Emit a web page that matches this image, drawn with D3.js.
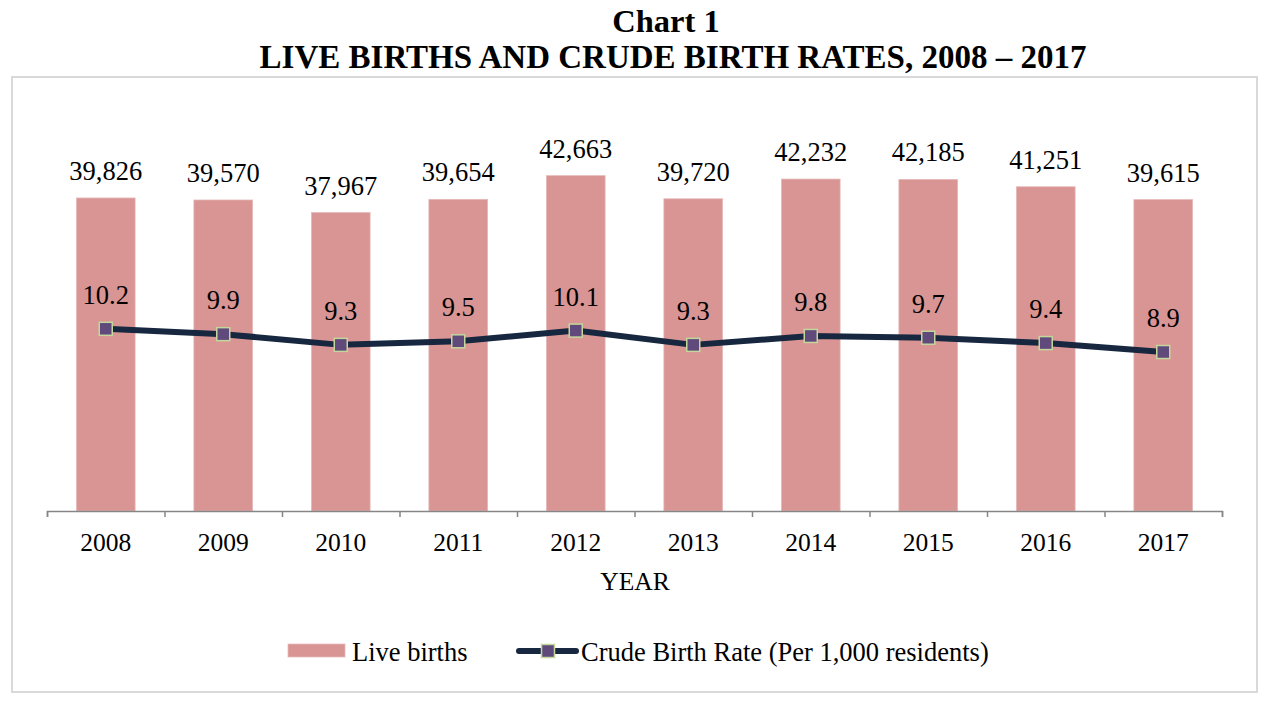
<!DOCTYPE html>
<html>
<head>
<meta charset="utf-8">
<script src="https://cdn.jsdelivr.net/npm/d3@7"></script>
<style>
    body { margin: 0; background: #ffffff; }
    svg { display: block; }
</style>
</head>
<body>
<div id="chart"></div>
<script>
// chart data
var years = ["2008", "2009", "2010", "2011", "2012", "2013", "2014", "2015", "2016", "2017"];
var liveBirths = [39826, 39570, 37967, 39654, 42663, 39720, 42232, 42185, 41251, 39615];
var birthRates = [10.2, 9.9, 9.3, 9.5, 10.1, 9.3, 9.8, 9.7, 9.4, 8.9];
var seriesNames = ["Live births", "Crude Birth Rate (Per 1,000 residents)"];

var width = 1274, height = 711;
var serif = "'Liberation Serif', 'Times New Roman', serif";
var barColor = "#d99594", lineColor = "#17273f";
var markerFill = "#604a7b", markerStroke = "#c3d69b";

var svg = d3.select("#chart").append("svg")
    .attr("width", width)
    .attr("height", height)
    .attr("font-family", serif);

// outer frame
svg.append("rect")
    .attr("x", 12)
    .attr("y", 77)
    .attr("width", 1245)
    .attr("height", 615)
    .attr("fill", "none")
    .attr("stroke", "#d9d9d9")
    .attr("stroke-width", 2);

// titles
svg.append("text")
    .attr("x", 666)
    .attr("y", 32)
    .attr("text-anchor", "middle")
    .attr("font-size", 32.5)
    .attr("font-weight", "bold")
    .text("Chart 1");

svg.append("text")
    .attr("x", 673)
    .attr("y", 68)
    .attr("text-anchor", "middle")
    .attr("font-size", 33)
    .attr("font-weight", "bold")
    .text("LIVE BIRTHS AND CRUDE BIRTH RATES, 2008 \u2013 2017");

// scales
var x = d3.scaleBand()
    .domain(years)
    .range([47, 1222])
    .paddingInner(0.5)
    .paddingOuter(0.25);

var xCenter = function(d) { return x(d) + x.bandwidth() / 2; };

var yBirths = d3.scaleLinear().domain([0, 50000]).range([511, 118]);
var yRate = d3.scaleLinear().domain([0, 22]).range([511, 118]);

// bars
svg.append("g")
    .selectAll("rect")
    .data(years)
    .enter().append("rect")
    .attr("x", function(d) { return x(d); })
    .attr("y", function(d, i) { return yBirths(liveBirths[i]); })
    .attr("width", x.bandwidth())
    .attr("height", function(d, i) { return yBirths(0) - yBirths(liveBirths[i]); })
    .attr("fill", barColor)
    .attr("stroke", "#e6b9b8")
    .attr("stroke-width", 0.75);

// bar labels
svg.append("g")
    .selectAll("text")
    .data(years)
    .enter().append("text")
    .attr("x", xCenter)
    .attr("y", function(d, i) { return yBirths(liveBirths[i]) - 18; })
    .attr("text-anchor", "middle")
    .attr("font-size", 26.5)
    .attr("fill", "#000000")
    .text(function(d, i) { return d3.format(",")(liveBirths[i]); });

// x axis
var xTicks = d3.scaleLinear().domain([0, years.length]).range([47, 1222]);
var axis = svg.append("g")
    .attr("transform", "translate(0,511)")
    .call(d3.axisBottom(xTicks).ticks(years.length).tickFormat("").tickSizeInner(6).tickSizeOuter(6));
axis.selectAll("path, line")
    .attr("stroke", "#868686")
    .attr("stroke-width", 1.5);

svg.append("g")
    .selectAll("text")
    .data(years)
    .enter().append("text")
    .attr("x", xCenter)
    .attr("y", 551)
    .attr("text-anchor", "middle")
    .attr("font-size", 25.5)
    .text(function(d) { return d; });

svg.append("text")
    .attr("x", 635)
    .attr("y", 590)
    .attr("text-anchor", "middle")
    .attr("font-size", 25.5)
    .text("YEAR");

// rate line
var line = d3.line()
    .x(function(d, i) { return xCenter(years[i]); })
    .y(function(d) { return yRate(d); });

svg.append("path")
    .datum(birthRates)
    .attr("d", line)
    .attr("fill", "none")
    .attr("stroke", lineColor)
    .attr("stroke-width", 6)
    .attr("stroke-linejoin", "round");

svg.append("g")
    .selectAll("rect")
    .data(birthRates)
    .enter().append("rect")
    .attr("x", function(d, i) { return xCenter(years[i]) - 6.5; })
    .attr("y", function(d) { return yRate(d) - 6.5; })
    .attr("width", 13)
    .attr("height", 13)
    .attr("fill", markerFill)
    .attr("stroke", markerStroke)
    .attr("stroke-width", 1.5);

svg.append("g")
    .selectAll("text")
    .data(birthRates)
    .enter().append("text")
    .attr("x", function(d, i) { return xCenter(years[i]); })
    .attr("y", function(d) { return yRate(d) - 25; })
    .attr("text-anchor", "middle")
    .attr("font-size", 26.5)
    .text(function(d) { return d3.format(".1f")(d); });

// legend
var legend = svg.append("g");

legend.append("rect")
    .attr("x", 288)
    .attr("y", 644)
    .attr("width", 57)
    .attr("height", 13)
    .attr("fill", barColor)
    .attr("stroke", "#e6b9b8")
    .attr("stroke-width", 0.75);

legend.append("text")
    .attr("x", 352)
    .attr("y", 661)
    .attr("font-size", 26.5)
    .text(seriesNames[0]);

legend.append("line")
    .attr("x1", 519)
    .attr("x2", 576)
    .attr("y1", 651)
    .attr("y2", 651)
    .attr("stroke", lineColor)
    .attr("stroke-width", 6)
    .attr("stroke-linecap", "round");

legend.append("rect")
    .attr("x", 541.5)
    .attr("y", 644.5)
    .attr("width", 13)
    .attr("height", 13)
    .attr("fill", markerFill)
    .attr("stroke", markerStroke)
    .attr("stroke-width", 1.5);

legend.append("text")
    .attr("x", 581)
    .attr("y", 661)
    .attr("font-size", 26.5)
    .text(seriesNames[1]);
</script>
</body>
</html>
